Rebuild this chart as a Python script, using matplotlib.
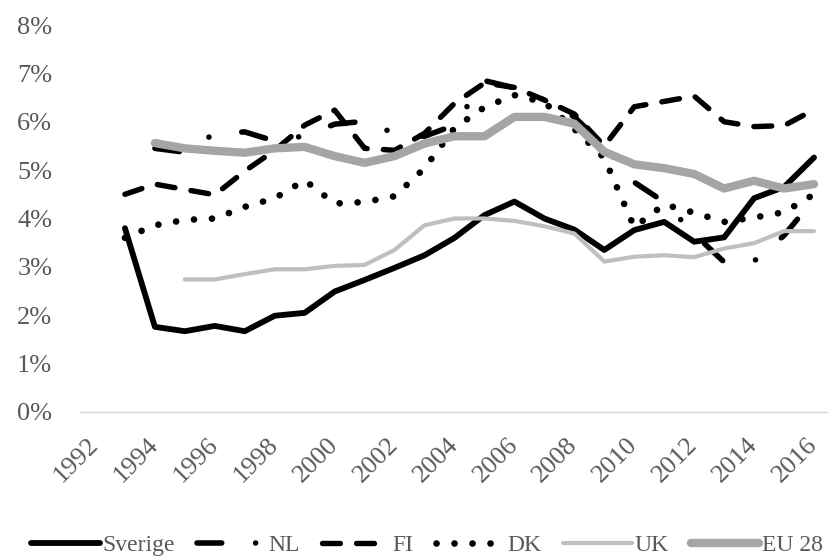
import numpy as np
import matplotlib
matplotlib.use("Agg")
import matplotlib.pyplot as plt
from matplotlib.ticker import FuncFormatter

nan = np.nan

years = list(range(1992, 2017))
tick_years = [str(y) if (y - 1992) % 2 == 0 else "" for y in years]

# andel i procent, avläst ur originalbilden
sverige = [nan, 3.80, 1.76, 1.67, 1.78, 1.67, 1.99, 2.05, 2.49, 2.73, 2.98, 3.24, 3.60,
           4.07, 4.35, 4.00, 3.77, 3.35, 3.76, 3.93, 3.52, 3.61, 4.42, 4.65, 5.26]
nl = [nan, nan, 5.45, 5.37, 5.76, 5.79, 5.60, 5.71, 5.95, 6.01, 5.76, 5.70, 5.93,
      6.85, 6.70, 6.45, 6.10, 5.50, 4.75, 4.34, 3.68, 3.10, 3.12, 3.65, 4.40]
fi = [nan, 4.50, 4.71, 4.60, 4.49, 4.98, 5.41, 5.93, 6.24, 5.45, 5.41, 5.76, 6.38,
      6.80, 6.71, 6.45, 6.16, 5.50, 6.31, 6.42, 6.53, 6.00, 5.90, 5.92, 6.25]
dk = [nan, 3.60, 3.86, 3.97, 4.00, 4.24, 4.42, 4.79, 4.31, 4.34, 4.46, 5.04, 5.87,
      6.30, 6.55, 6.40, 5.85, 5.25, 3.82, 4.29, 4.12, 3.93, 4.02, 4.13, 4.50]
uk = [nan, nan, nan, 2.74, 2.74, 2.85, 2.95, 2.95, 3.02, 3.04, 3.35, 3.86, 4.00,
      4.00, 3.95, 3.84, 3.69, 3.11, 3.21, 3.24, 3.20, 3.38, 3.49, 3.74, 3.74]
eu28 = [nan, nan, 5.56, 5.45, 5.40, 5.36, 5.45, 5.48, 5.29, 5.15, 5.29, 5.55, 5.70,
        5.70, 6.10, 6.10, 5.96, 5.38, 5.12, 5.04, 4.92, 4.62, 4.78, 4.62, 4.71]

plt.rcParams['font.family'] = ['Liberation Serif', 'DejaVu Serif']
txt_color = '#595959'

fig = plt.figure(figsize=(8.29, 5.58), dpi=100)
ax = fig.add_axes([80 / 829, 1 - 412 / 558, 749 / 829, 387 / 558])

x = np.arange(len(years))

ax.plot(x, sverige, color='black', lw=4.2, solid_capstyle='round', solid_joinstyle='round', label='Sverige')
ax.plot(x, nl, color='black', lw=4.0, dashes=(4.45, 6.1, 0.01, 6.1), dash_capstyle='round',
        dash_joinstyle='round', label='NL')
ax.plot(x, fi, color='black', lw=3.9, dashes=(3.3, 3.0), dash_capstyle='round',
        dash_joinstyle='round', label='FI')
ax.plot(x, dk, color='black', lw=4.8, dashes=(0.01, 2.69), dash_capstyle='round',
        dash_joinstyle='round', label='DK')
ax.plot(x, uk, color='#BFBFBF', lw=3.0, solid_capstyle='round', solid_joinstyle='round', label='UK')
ax.plot(x, eu28, color='#A5A5A5', lw=6.0, solid_capstyle='round', solid_joinstyle='round', label='EU 28')

ax.set_xlim(-0.5, len(years) - 0.5)
ax.set_ylim(0, 8)
ax.set_yticks(range(0, 9))
ax.yaxis.set_major_formatter(FuncFormatter(lambda v, p: '{:.0f}%'.format(v)))
ax.set_xticks(x)
ax.set_xticklabels(tick_years, rotation=45, ha='right', rotation_mode='anchor', va='center')

for s in ['top', 'right', 'left']:
    ax.spines[s].set_visible(False)
ax.spines['bottom'].set_color('#D9D9D9')
ax.spines['bottom'].set_linewidth(1.0)
ax.tick_params(axis='both', length=0, labelsize=19, colors=txt_color)
ax.tick_params(axis='y', pad=20)
ax.tick_params(axis='x', pad=21)

fig.legend(loc='center', bbox_to_anchor=(427 / 829, 1 - 545 / 558), ncol=6, frameon=False,
           fontsize=17, handlelength=2.9, handletextpad=0.1, columnspacing=0.95,
           labelcolor=txt_color, borderaxespad=0)

fig.savefig('out.png', dpi=100)
